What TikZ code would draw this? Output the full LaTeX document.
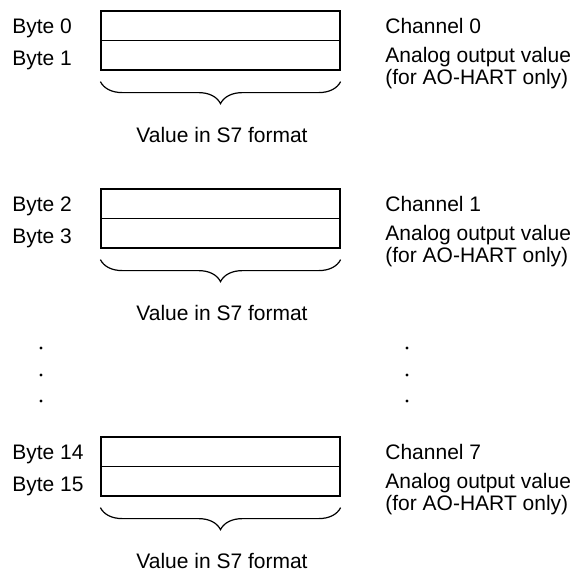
\documentclass[tikz,border=0pt]{standalone}
\usepackage{fontspec}
\setmainfont{Liberation Sans}
\usepackage{tikz}
\usetikzlibrary{decorations.pathreplacing}

\begin{document}
\begin{tikzpicture}[x=0.5pt, y=-0.5pt,
        every node/.style={font=\fontsize{10.5pt}{12.6pt}\selectfont, inner sep=0pt},
        cell/.style={draw, line width=0.6pt, minimum width=119.5pt, minimum height=14.75pt},
        lbl/.style={anchor=base west},
        dot/.style={circle, fill, minimum size=1.6pt},
        brc/.style={decorate, decoration={brace, mirror, amplitude=11pt}, line width=0.6pt}]
        \useasboundingbox (0,0) rectangle (579,570);
        % channel 0
        \node[cell] (b0) at (220.5, 25.75) {};
        \node[cell] (b1) at (220.5, 55.25) {};
        \node[lbl] (l0) at (12, 33) {Byte 0};
        \node[lbl] (l1) at (12, 65) {Byte 1};
        \node[lbl] (c0) at (385, 33) {Channel 0};
        \node[lbl] (a0) at (385, 62) {Analog output value};
        \node[lbl] (h0) at (385, 84) {(for AO-HART only)};
        \draw[brc] ([yshift=-5.5pt]b1.south west) -- ([yshift=-5.5pt]b1.south east);
        \node[anchor=base] (v0) at (222, 142) {Value in S7 format};
        % channel 1
        \node[cell] (b2) at (220.5, 203.75) {};
        \node[cell] (b3) at (220.5, 233.25) {};
        \node[lbl] (l2) at (12, 211) {Byte 2};
        \node[lbl] (l3) at (12, 243) {Byte 3};
        \node[lbl] (c1) at (385, 211) {Channel 1};
        \node[lbl] (a1) at (385, 240) {Analog output value};
        \node[lbl] (h1) at (385, 262) {(for AO-HART only)};
        \draw[brc] ([yshift=-5.5pt]b3.south west) -- ([yshift=-5.5pt]b3.south east);
        \node[anchor=base] (v1) at (222, 320) {Value in S7 format};
        % gap
        \node[dot] (d1) at (41, 348) {};
        \node[dot] (d2) at (41, 375) {};
        \node[dot] (d3) at (41, 401) {};
        \node[dot] (d4) at (407, 348) {};
        \node[dot] (d5) at (407, 375) {};
        \node[dot] (d6) at (407, 401) {};
        % channel 7
        \node[cell] (b14) at (220.5, 451.75) {};
        \node[cell] (b15) at (220.5, 481.25) {};
        \node[lbl] (l14) at (12, 459) {Byte 14};
        \node[lbl] (l15) at (12, 491) {Byte 15};
        \node[lbl] (c7) at (385, 459) {Channel 7};
        \node[lbl] (a7) at (385, 488) {Analog output value};
        \node[lbl] (h7) at (385, 510) {(for AO-HART only)};
        \draw[brc] ([yshift=-5.5pt]b15.south west) -- ([yshift=-5.5pt]b15.south east);
        \node[anchor=base] (v7) at (222, 568) {Value in S7 format};
\end{tikzpicture}
\end{document}
